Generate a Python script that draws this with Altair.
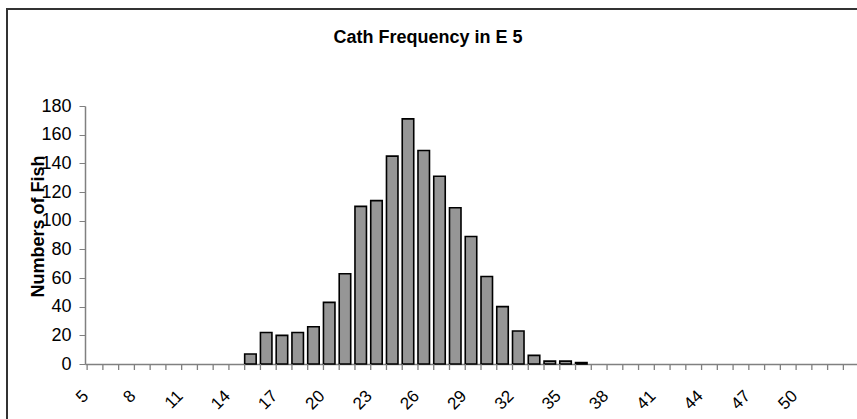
import altair as alt
import pandas as pd

# Category axis: lengths 5..53
categories = list(range(5, 54))

# Observed bars (length class -> number of fish)
lengths = [15, 16, 17, 18, 19, 20, 21, 22, 23, 24, 25, 26, 27, 28, 29, 30, 31, 32, 33, 34, 35, 36]
counts = [7, 22, 20, 22, 26, 43, 63, 110, 114, 145, 171, 149, 131, 109, 89, 61, 40, 23, 6, 2, 2, 1]

y_ticks = [0, 20, 40, 60, 80, 100, 120, 140, 160, 180]
title_text = "Cath Frequency in E 5"

df = pd.DataFrame({"length": lengths, "count": counts})

FONT = "Liberation Sans"
W, H = 772, 258

x_scale = alt.Scale(domain=categories, paddingInner=0.27, paddingOuter=0.135)
y_scale = alt.Scale(domain=[0, 180], nice=False)

x_axis = alt.Axis(
    title=None, labelAngle=-45, labelAlign="right", labelBaseline="middle",
    labelExpr="(datum.value - 5) % 3 == 0 && datum.value <= 50 ? datum.label : ''",
    labelFont=FONT, labelFontSize=17, labelColor="#000000",
    labelPadding=29, labelOffset=-7, ticks=False, domainColor="#808080", domainWidth=1.5,
    labelOverlap=False, labelBound=False)

bars = alt.Chart(df).mark_bar(
    color="#969696", stroke="#000000", strokeWidth=1.6
).encode(
    x=alt.X("length:O", scale=x_scale, sort=categories, axis=x_axis),
    y=alt.Y("count:Q", scale=y_scale,
            axis=alt.Axis(
                title="Numbers of Fish", values=y_ticks, grid=False,
                labelFont=FONT, labelFontSize=18, labelColor="#000000", labelPadding=8,
                tickSize=6, tickColor="#808080", domainColor="#808080", domainWidth=1.5,
                titleFont=FONT, titleFontSize=18, titleFontWeight="bold", titleColor="#000000",
                titleAngle=-90, titleX=-42, titleY=120, titleAlign="center",
                titleBaseline="alphabetic")),
)

# boundary ticks between categories (Excel style)
tick_df = pd.DataFrame({"length": categories})
ticks = alt.Chart(tick_df).mark_rule(color="#808080", strokeWidth=1.3).encode(
    x=alt.X("length:O", scale=x_scale, sort=categories, bandPosition=0, axis=x_axis),
    y=alt.value(H),
    y2=alt.value(H + 6),
)

# chart-area frame (left and top edges visible)
frame_left = alt.Chart(tick_df).mark_rule(color="#333333", strokeWidth=2).encode(
    x=alt.value(-78), y=alt.value(-97), y2=alt.value(H + 60)
)
frame_top = alt.Chart(tick_df).mark_rule(color="#333333", strokeWidth=2).encode(
    x=alt.value(-79), x2=alt.value(W + 5), y=alt.value(-97)
)

title = alt.Chart(pd.DataFrame({"t": [title_text]})).mark_text(
    font=FONT, fontSize=18, fontWeight="bold", color="#000000",
    align="center", baseline="alphabetic"
).encode(text="t:N", x=alt.value(343), y=alt.value(-63))

chart = alt.layer(bars, ticks, frame_left, frame_top, title).properties(
    width=W, height=H,
    background="#ffffff",
    autosize=alt.AutoSizeParams(type="none"),
    padding={"left": 85, "top": 106, "right": 0, "bottom": 55},
).configure_view(strokeWidth=0, stroke="transparent")

chart.save("out.html", embed_options={"renderer": "svg", "actions": False})
